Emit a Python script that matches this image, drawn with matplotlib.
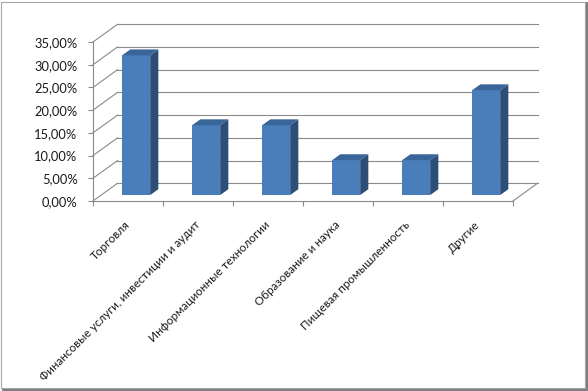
import matplotlib
matplotlib.use('Agg')
from matplotlib import pyplot as plt
from matplotlib.patches import Polygon, Rectangle
import numpy as np

# данные
categories = ['Торговля', 'Финансовые услуги, инвестиции и аудит', 'Информационные технологии',
              'Образование и наука', 'Пищевая промышленность', 'Другие']
values = [30.77, 15.38, 15.38, 7.69, 7.69, 23.08]
y_ticks = [0, 5, 10, 15, 20, 25, 30, 35]
y_tick_labels = ['0,00%', '5,00%', '10,00%', '15,00%', '20,00%', '25,00%', '30,00%', '35,00%']

plt.rcParams['font.family'] = ['Lato', 'Open Sans', 'DejaVu Sans']

W, H = 588, 391
fig = plt.figure(figsize=(W / 100, H / 100), dpi=100)

# оси на всю картинку, масштаб подобран под пиксели
x0_px, unit_x = 93, 70.0
y0_px, unit_y = 201, 159 / 35.0
ax = fig.add_axes([0, 0, 1, 1])
ax.set_xlim(-x0_px / unit_x, (W - x0_px) / unit_x)
ax.set_ylim(-(H - y0_px) / unit_y, y0_px / unit_y)
ax.patch.set_alpha(0)

# глубина "3D"
dx, dy = 0.35, 3.9
n = len(categories)
grid_c = '#8a8a8a'

# задняя стенка и левая стенка
for v in y_ticks:
    ax.plot([dx, n + dx], [v + dy, v + dy], color=grid_c, lw=0.8, zorder=1)
    ax.plot([0, dx], [v, v + dy], color=grid_c, lw=0.8, zorder=1)
ax.plot([n, n + dx], [0, dy], color=grid_c, lw=0.8, zorder=1)

# столбцы
bw = 0.4
bdx, bdy = dx / 3, dy / 3
front = '#4a7ebb'
side = '#2d4e77'
top = '#3a6598'
x = np.arange(n) + 0.5
bars = ax.bar(x + bdx, values, width=bw, bottom=bdy, color=front, zorder=3)
for b in bars:
    xl = b.get_x()
    xr = xl + b.get_width()
    y_b = b.get_y()
    y_t = y_b + b.get_height()
    ax.add_patch(Polygon([(xr, y_b), (xr, y_t), (xr + bdx, y_t + bdy), (xr + bdx, y_b + bdy)],
                         closed=True, facecolor=side, edgecolor='none', zorder=3))
    ax.add_patch(Polygon([(xl, y_t), (xr, y_t), (xr + bdx, y_t + bdy), (xl + bdx, y_t + bdy)],
                         closed=True, facecolor=top, edgecolor='none', zorder=3))

# оси
for s in ['top', 'right']:
    ax.spines[s].set_visible(False)
ax.spines['left'].set_position(('data', 0))
ax.spines['left'].set_bounds(0, 35)
ax.spines['bottom'].set_position(('data', 0))
ax.spines['bottom'].set_bounds(0, n)
ax.spines['left'].set_color(grid_c)
ax.spines['bottom'].set_color(grid_c)
ax.spines['left'].set_linewidth(0.8)
ax.spines['bottom'].set_linewidth(0.8)

ax.set_yticks(y_ticks)
ax.set_yticklabels(y_tick_labels, fontsize=9.3, color='#1a1a1a')
ax.tick_params(axis='y', direction='out', length=3.6, width=0.8, color=grid_c, pad=7.5)

ax.set_xticks(np.arange(n + 1))
ax.set_xticklabels([])
ax.tick_params(axis='x', which='major', direction='out', length=3.6, width=0.8, color=grid_c)
ax.set_xticks(x, minor=True)
ax.set_xticklabels(categories, minor=True, fontsize=8.4, color='#1a1a1a',
                   rotation=45, ha='right', va='center', rotation_mode='anchor')
ax.tick_params(axis='x', which='minor', length=0, pad=16)

# рамка
fig.patches.append(Rectangle((1, 3), 584, 386, transform=None, fill=False,
                             edgecolor='#a6a6a6', lw=0.8))
fig.patches.append(Rectangle((586, 0), 2, 389, transform=None, facecolor='#808080', edgecolor='none'))
fig.patches.append(Rectangle((2, 0), 586, 2, transform=None, facecolor='#808080', edgecolor='none'))

fig.savefig('out.png', dpi=100)
